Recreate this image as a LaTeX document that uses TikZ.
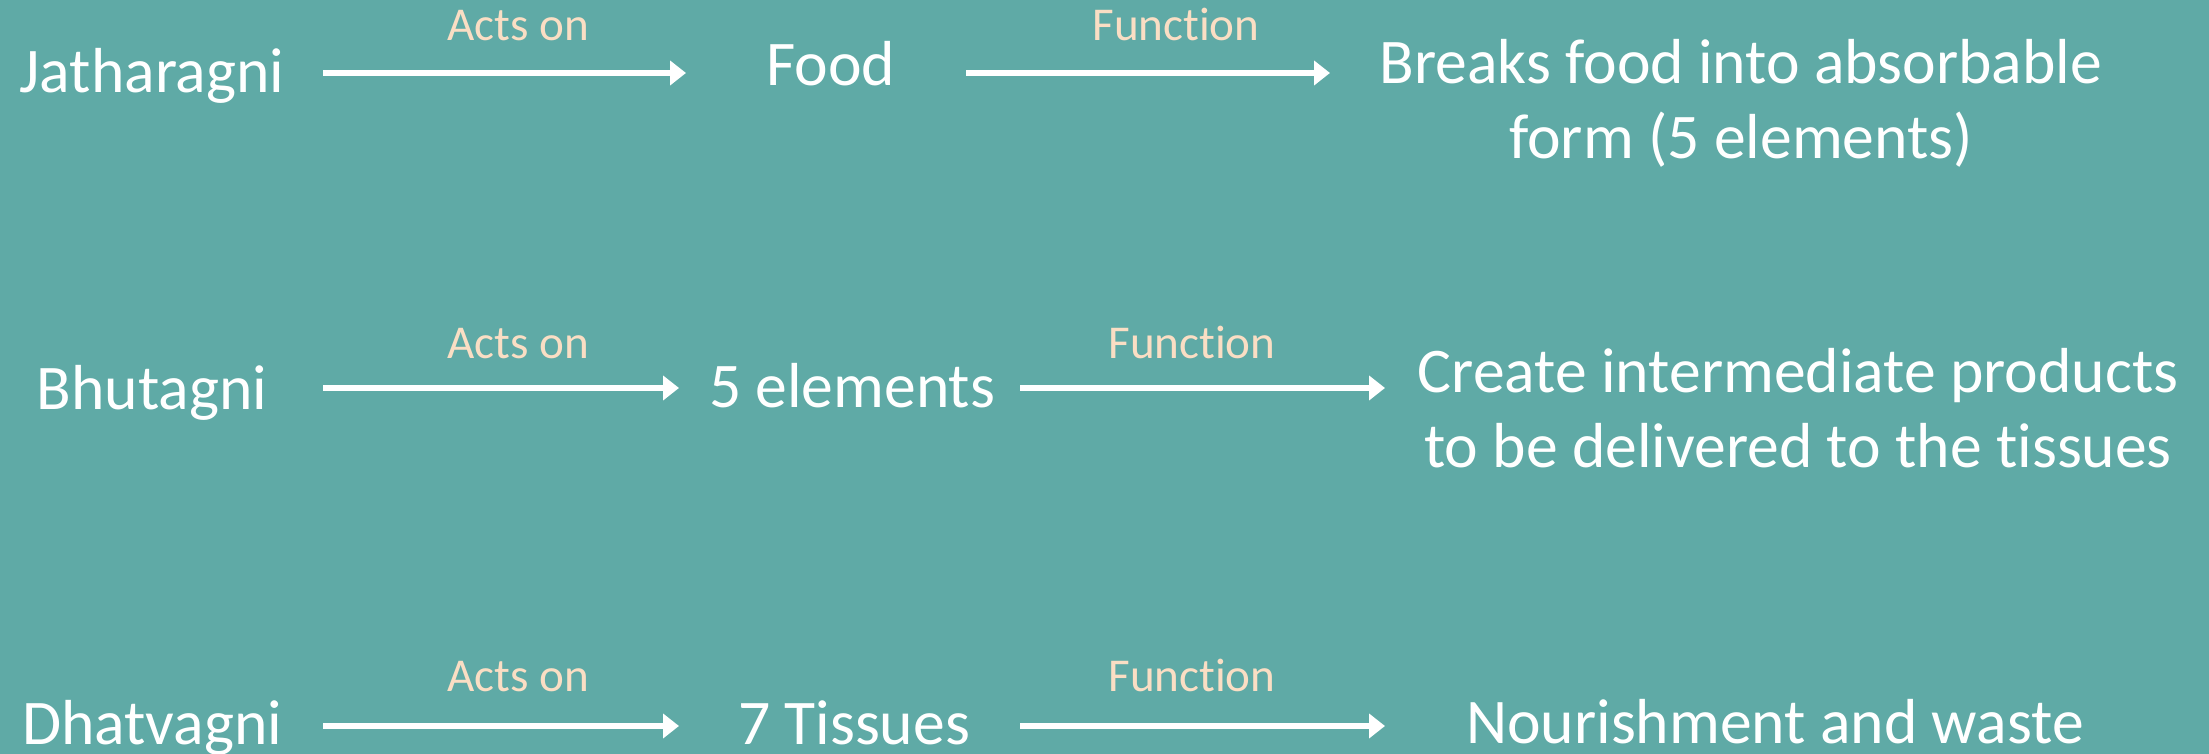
\documentclass[tikz,border=0pt]{standalone}
\usepackage{fontspec}
\setmainfont[Ligatures=NoCommon]{Carlito}
\usetikzlibrary{arrows.meta}

\definecolor{agnibg}{RGB}{95,170,166}
\definecolor{peach}{RGB}{250,222,196}

\tikzset{
  term/.style={text=white, font=\fontsize{18.1}{21.6}\selectfont, anchor=base, inner sep=0pt},
  tag/.style={text=peach, font=\fontsize{13.4}{16}\selectfont, anchor=base, inner sep=0pt},
  flow/.style={draw=white, line width=1.8pt, -{Triangle[length=1.6mm,width=2.4mm]}}
}

\begin{document}
\begin{tikzpicture}

\useasboundingbox (0,0) rectangle (22.09,7.54);
\path [fill=agnibg] (0,0) rectangle (22.09,7.54);

% Jatharagni
\node [term] (jath) at (1.52,6.61) {Jatharagni};
\node [term] (food) at (8.31,6.68) {Food};
\node [term, align=center] (breaks) at (17.41,5.95) {Breaks food into absorbable\\form (5 elements)};
\coordinate (a1) at (3.23,6.81);  \coordinate (b1) at (6.86,6.81);
\coordinate (c1) at (9.66,6.81);  \coordinate (d1) at (13.30,6.81);
\draw [flow] (a1) -- (b1);
\draw [flow] (c1) -- (d1);
\node [tag] (acts1) at (5.18,7.13) {Acts on};
\node [tag] (func1) at (11.76,7.13) {Function};

% Bhutagni
\node [term] (bhut) at (1.52,3.44) {Bhutagni};
\node [term] (elem) at (8.52,3.46) {5 elements};
\node [term, align=center] (create) at (17.98,2.86) {Create intermediate products\\to be delivered to the tissues};
\coordinate (a2) at (3.23,3.66);  \coordinate (b2) at (6.79,3.66);
\coordinate (c2) at (10.20,3.66); \coordinate (d2) at (13.85,3.66);
\draw [flow] (a2) -- (b2);
\draw [flow] (c2) -- (d2);
\node [tag] (acts2) at (5.18,3.95) {Acts on};
\node [tag] (func2) at (11.92,3.95) {Function};

% Dhatvagni
\node [term] (dhat) at (1.52,0.09) {Dhatvagni};
\node [term] (tiss) at (8.54,0.09) {7 Tissues};
\node [term] (nour) at (17.75,0.10) {Nourishment and waste};
\coordinate (a3) at (3.23,0.28);  \coordinate (b3) at (6.79,0.28);
\coordinate (c3) at (10.20,0.28); \coordinate (d3) at (13.85,0.28);
\draw [flow] (a3) -- (b3);
\draw [flow] (c3) -- (d3);
\node [tag] (acts3) at (5.18,0.62) {Acts on};
\node [tag] (func3) at (11.92,0.62) {Function};

\end{tikzpicture}
\end{document}
